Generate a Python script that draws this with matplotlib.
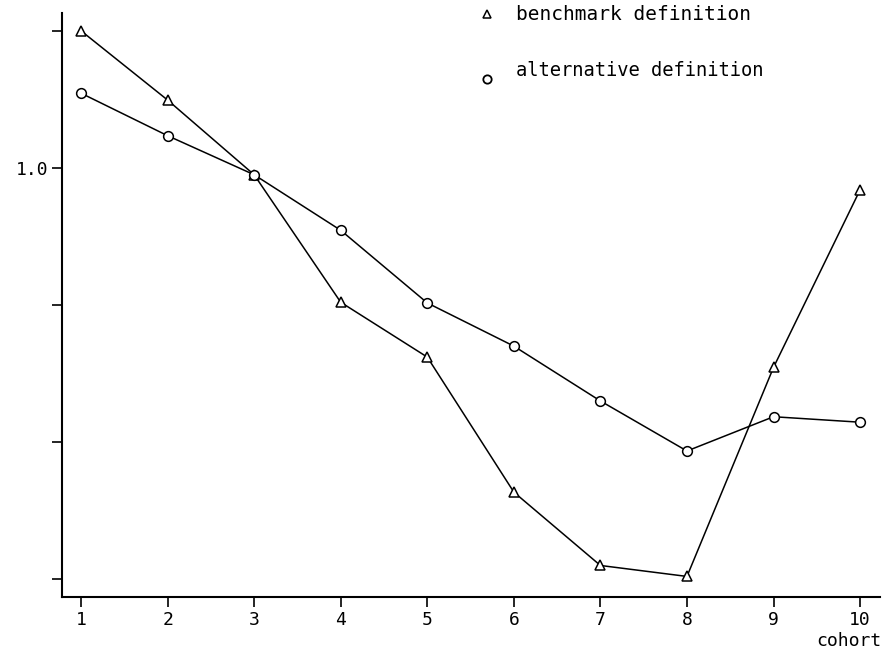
import matplotlib
matplotlib.use("Agg")
import matplotlib.pyplot as plt

cohort = [1, 2, 3, 4, 5, 6, 7, 8, 9, 10]
benchmark = [1.200, 1.099, 0.990, 0.804, 0.724, 0.527, 0.420, 0.404, 0.709, 0.968]
alternative = [1.109, 1.047, 0.990, 0.909, 0.803, 0.740, 0.660, 0.587, 0.637, 0.629]
ytick_vals = [0.4, 0.6, 0.8, 1.0, 1.2]
ytick_labels = ["", "", "", "1.0", ""]
xtick_labels = [str(c) for c in cohort]

plt.rcParams['font.family'] = ['DejaVu Sans Mono']

fig = plt.figure(figsize=(8.83, 6.55), dpi=100)
ax = fig.add_axes([62/883, 1-597/655, (880-62)/883, (597-13)/655])

ax.plot(cohort, benchmark, color='black', lw=1.1, marker='^', ms=7,
        mfc='white', mec='black', mew=1.1)
ax.plot(cohort, alternative, color='black', lw=1.1, marker='o', ms=7,
        mfc='white', mec='black', mew=1.1)

ax.set_xlim(0.78, 10.23)
ax.set_ylim(0.374, 1.226)
ax.set_yticks(ytick_vals)
ax.set_yticklabels(ytick_labels, fontsize=13)
ax.set_xticks(cohort)
ax.set_xticklabels(xtick_labels, fontsize=13)
ax.tick_params(direction='out', length=7, width=1.2, colors='black', pad=3)
for s in ['top', 'right']:
    ax.spines[s].set_visible(False)
for s in ['left', 'bottom']:
    ax.spines[s].set_linewidth(1.5)

ax.text(10.25, -0.075, "cohort", transform=ax.get_xaxis_transform(),
        ha='right', va='center', fontsize=13)

# legend drawn as markers + text in pixel-like coords
ax_leg = fig.add_axes([0, 0, 1, 1], facecolor='none')
ax_leg.set_xlim(0, 883)
ax_leg.set_ylim(655, 0)
ax_leg.axis('off')
ax_leg.plot([487], [14], marker='^', ms=6, mfc='white', mec='black', mew=1.1, ls='none')
ax_leg.plot([487], [79], marker='o', ms=6, mfc='white', mec='black', mew=1.3, ls='none')
ax_leg.text(516, 14, "benchmark definition", fontsize=14, va='center', ha='left')
ax_leg.text(516, 70, "alternative definition", fontsize=13.5, va='center', ha='left')

fig.savefig("out.png", dpi=100)
